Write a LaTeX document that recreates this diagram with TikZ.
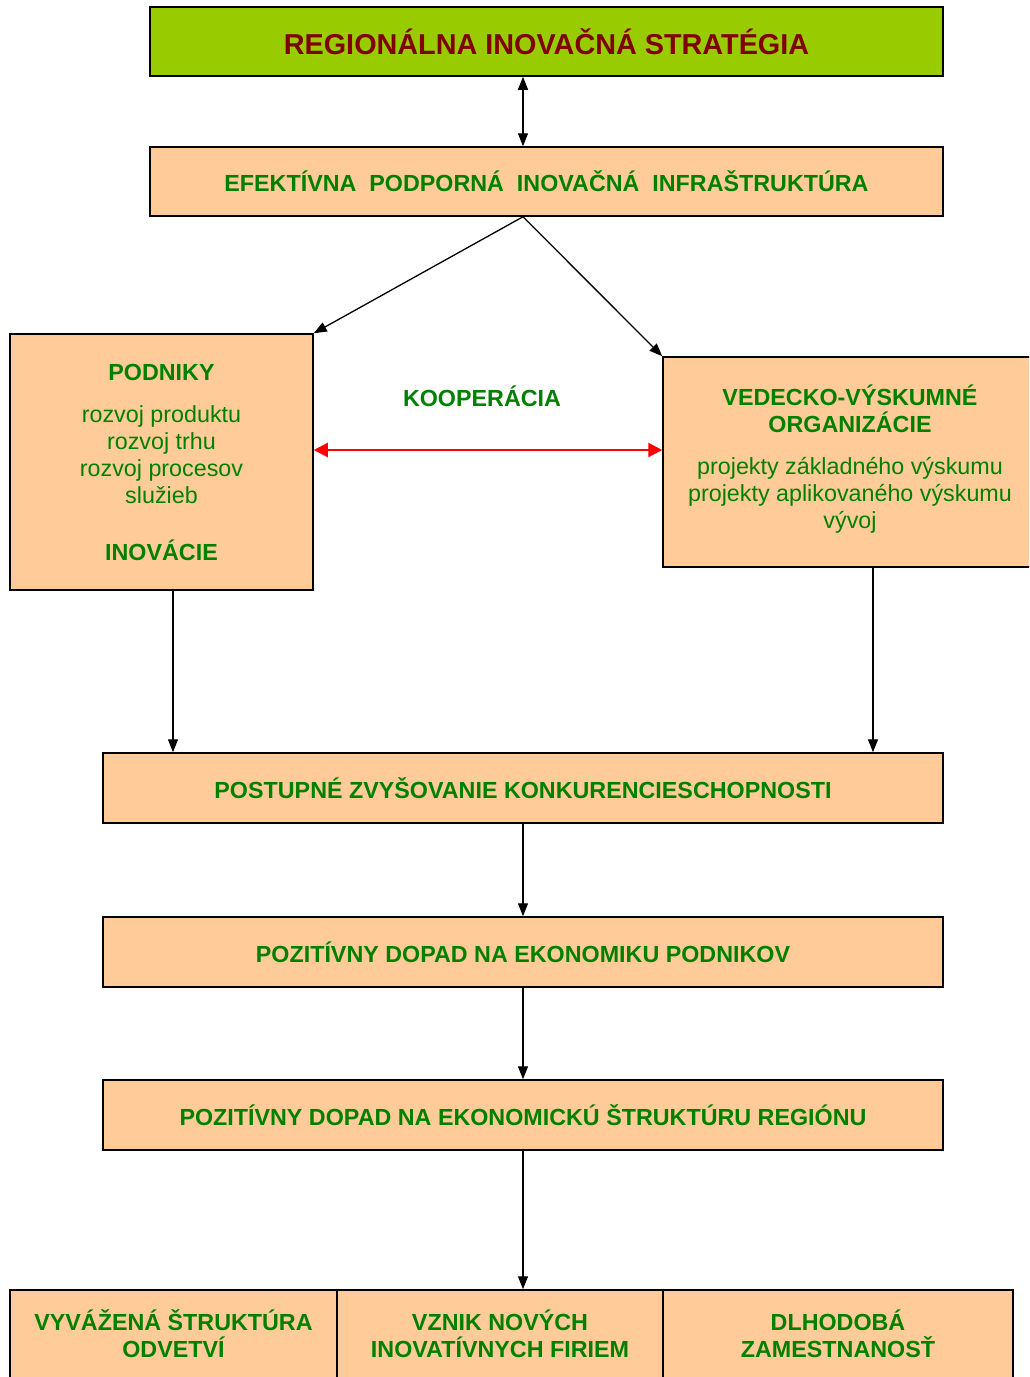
\documentclass[tikz,border=0pt]{standalone}
\usepackage{fontspec}
\setmainfont{Liberation Sans}
\usetikzlibrary{arrows.meta}
\definecolor{peach}{HTML}{FFCC99}
\definecolor{lime}{HTML}{99CC00}
\definecolor{tgreen}{HTML}{008000}
\definecolor{tred}{HTML}{800000}
\tikzset{
  box/.style={draw=black, line width=1.5pt, fill=peach, rectangle, inner sep=0pt, align=center,
    text=tgreen, font=\fontsize{23.3}{27}\selectfont},
  hd/.style={font=\fontsize{23.3}{27}\selectfont\bfseries},
  conn/.style={draw=black, line width=1.3pt, -{Triangle[length=13pt,width=10pt]}},
  dconn/.style={draw=black, line width=1.3pt, {Triangle[length=13pt,width=10pt]}-{Triangle[length=13pt,width=10pt]}},
  rconn/.style={draw=red, line width=2.2pt, {Triangle[length=14pt,width=14pt]}-{Triangle[length=14pt,width=14pt]}}
}
\begin{document}
\begin{tikzpicture}[x=1pt,y=1pt]
\clip (0,0) rectangle (1029,-1377);
\fill[white] (0,0) rectangle (1029,-1377);
\coordinate (cx) at (523,0);
\coordinate (lx) at (173,0);
\coordinate (rx) at (873,0);
\node[box, fill=lime, text=tred, minimum width=793pt, minimum height=69pt, font=\fontsize{28.8}{32}\selectfont\bfseries]
  (top) at (546.5,-41.5) {REGIONÁLNA INOVAČNÁ STRATÉGIA};
\node[box, hd, minimum width=793pt, minimum height=69pt]
  (efekt) at (546.5,-181.5) {EFEKTÍVNA\ \ PODPORNÁ\ \ INOVAČNÁ\ \ INFRAŠTRUKTÚRA};
\node[box, minimum width=303pt, minimum height=256pt]
  (podniky) at (161.5,-462) {\textbf{PODNIKY}\\[15pt]rozvoj produktu\\rozvoj trhu\\rozvoj procesov\\služieb\\[30pt]\textbf{INOVÁCIE}};
\node[box, minimum width=374pt, minimum height=210pt]
  (vedecko) at (850,-462) {};
\node[text=tgreen, align=center, font=\fontsize{23.3}{27}\selectfont, anchor=north]
  (vedtext) at (850,-381) {\textbf{VEDECKO-VÝSKUMNÉ}\\\textbf{ORGANIZÁCIE}\\[15pt]projekty základného výskumu\\projekty aplikovaného výskumu\\vývoj};
\node[text=tgreen, hd] (koop) at (482,-396) {KOOPERÁCIA};
\node[box, hd, minimum width=840pt, minimum height=70pt]
  (postupne) at (523,-788) {POSTUPNÉ ZVYŠOVANIE KONKURENCIESCHOPNOSTI};
\node[box, hd, minimum width=840pt, minimum height=70pt]
  (dopad1) at (523,-952) {POZITÍVNY DOPAD NA EKONOMIKU PODNIKOV};
\node[box, hd, minimum width=840pt, minimum height=70pt]
  (dopad2) at (523,-1115) {POZITÍVNY DOPAD NA EKONOMICKÚ ŠTRUKTÚRU REGIÓNU};
\node[box, minimum width=327pt, minimum height=100pt] (b1) at (173.5,-1340) {};
\node[box, minimum width=326pt, minimum height=100pt] (b2) at (500,-1340) {};
\node[box, minimum width=350pt, minimum height=100pt] (b3) at (838,-1340) {};
\node[text=tgreen, hd, align=center, anchor=north] (t1) at (173.5,-1306) {VYVÁŽENÁ ŠTRUKTÚRA\\ODVETVÍ};
\node[text=tgreen, hd, align=center, anchor=north] (t2) at (500,-1306) {VZNIK NOVÝCH\\INOVATÍVNYCH FIRIEM};
\node[text=tgreen, hd, align=center, anchor=north] (t3) at (838,-1306) {DLHODOBÁ\\ZAMESTNANOSŤ};
% connectors
\draw[dconn] (cx |- top.south) -- (cx |- efekt.north);
\draw[conn] (cx |- efekt.south) -- (podniky.north east);
\draw[conn] (cx |- efekt.south) -- (vedecko.north west);
\draw[rconn] ([yshift=12pt]podniky.east) -- ([yshift=12pt]podniky.east -| vedecko.west);
\draw[conn] (lx |- podniky.south) -- (lx |- postupne.north);
\draw[conn] (rx |- vedecko.south) -- (rx |- postupne.north);
\draw[conn] (cx |- postupne.south) -- (cx |- dopad1.north);
\draw[conn] (cx |- dopad1.south) -- (cx |- dopad2.north);
\draw[conn] (cx |- dopad2.south) -- (cx |- b2.north);
\end{tikzpicture}
\end{document}
